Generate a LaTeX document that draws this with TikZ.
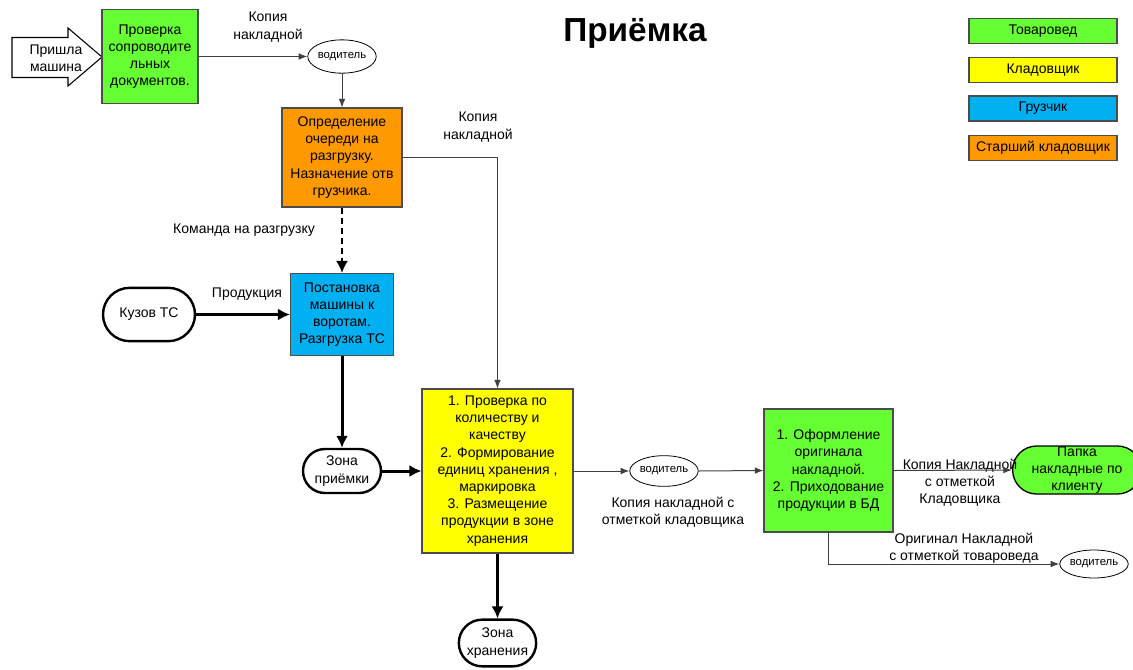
\documentclass[tikz,border=0pt]{standalone}
\usepackage{fontspec}
\setmainfont{Liberation Sans}
\usetikzlibrary{arrows.meta,shapes.misc,shapes.geometric}

\definecolor{tovgreen}{RGB}{102,255,51}
\definecolor{kladyellow}{RGB}{255,255,0}
\definecolor{gruzblue}{RGB}{0,176,240}
\definecolor{starorange}{RGB}{255,153,0}

\begin{document}
\begin{tikzpicture}[x=0.75pt,y=-0.75pt,
  txt/.style={font=\fontsize{10.5}{12.9}\selectfont},
  box/.style={txt, draw=black!70, line width=0.8pt, align=center, inner sep=0pt},
  term/.style={txt, rounded rectangle, draw, line width=1.8pt, align=center, inner sep=0pt},
  drv/.style={ellipse, draw, line width=0.6pt, inner sep=0pt, font=\fontsize{8.5}{10}\selectfont},
  lbl/.style={txt, align=center, inner sep=0pt},
  legend/.style={box, minimum width=111pt, minimum height=18.75pt},
  thinline/.style={draw=black!75, line width=0.75pt, -{Latex[length=6.5pt,width=5pt]}},
  thickline/.style={line width=2.25pt, -{Latex[length=9pt,width=9pt]}}]
\useasboundingbox (0,0) rectangle (1133,669);

% title and legend
\node[font=\fontsize{25}{30}\selectfont\bfseries] (title) at (635,33) {Приёмка};
\node[legend, fill=tovgreen] (legtov) at (1043,31) {Товаровед};
\node[legend, fill=kladyellow] (legklad) at (1043,70) {Кладовщик};
\node[legend, fill=gruzblue] (leggruz) at (1043,108.5) {Грузчик};
\node[legend, fill=starorange] (legstar) at (1043,148) {Старший кладовщик};

% arriving truck
\draw[line width=0.8pt] (12,37.5) -- (68,37.5) -- (68,28) -- (102,57) -- (68,86) -- (68,77.5) -- (12,77.5) -- cycle;
\node[lbl] (arrived) at (56,58) {Пришла\\машина};

% boxes
\node[box, fill=tovgreen, minimum width=72pt, minimum height=70.5pt] (docs) at (150,56.5) {Проверка\\сопроводите\\льных\\документов.};
\node[drv, minimum width=47pt, minimum height=25pt] (drv1) at (342,56.5) {водитель};
\node[box, fill=starorange, minimum width=90pt, minimum height=74.25pt] (queue) at (342,157.5) {Определение\\очереди на\\разгрузку.\\Назначение отв\\грузчика.};
\node[box, fill=gruzblue, minimum width=77.25pt, minimum height=61.5pt] (dock) at (342,314.5) {Постановка\\машины к\\воротам.\\Разгрузка ТС};
\node[term, minimum width=69pt, minimum height=40pt] (body) at (149,314.5) {Кузов ТС};
\node[term, minimum width=58.5pt, minimum height=33pt] (recv) at (342,471) {Зона\\приёмки};
\node[box, fill=kladyellow, minimum width=113.25pt, minimum height=123pt] (check) at (497.5,471) {1. Проверка по\\количеству и\\качеству\\2. Формирование\\единиц хранения ,\\маркировка\\3. Размещение\\продукции в зоне\\хранения};
\node[term, minimum width=58pt, minimum height=35pt] (store) at (497.5,643) {Зона\\хранения};
\node[drv, minimum width=48pt, minimum height=23pt] (drv2) at (664,471) {водитель};
\node[box, fill=tovgreen, minimum width=96.75pt, minimum height=92.25pt] (invoice) at (828.5,470.5) {1. Оформление\\оригинала\\накладной.\\2. Приходование\\продукции в БД};
\node[term, fill=tovgreen, line width=1pt, minimum width=81pt, minimum height=36pt] (folder) at (1077,470) {Папка\\накладные по\\клиенту};
\node[drv, minimum width=46.5pt, minimum height=21pt] (drv3) at (1094,564) {водитель};

% labels
\node[lbl] (copy1) at (268,27) {Копия\\накладной};
\node[lbl] (copy2) at (478,127) {Копия\\накладной};
\node[lbl] (cmd) at (244,230) {Команда на разгрузку};
\node[lbl] (prod) at (247,294) {Продукция};
\node[lbl] (copy3) at (673,512) {Копия накладной с\\отметкой кладовщика};
\node[lbl] (copy4) at (960,482.5) {Копия Накладной\\с отметкой\\Кладовщика};
\node[lbl] (orig) at (964,548) {Оригинал Накладной\\с отметкой товароведа};

% connectors
\draw[thinline] (docs.east) -- (drv1.west);
\draw[thinline] (drv1.south) -- (queue.north);
\draw[thinline] (queue.east) -| (check.north);
\draw[thickline, line width=1.5pt, dash pattern=on 4.5pt off 3pt] (queue.south) -- (dock.north);
\draw[thickline] (body.east) -- (dock.west);
\draw[thickline] (dock.south) -- (recv.north);
\draw[thickline] (recv.east) -- (check.west);
\draw[thickline] (check.south) -- (store.north);
\draw[thinline] (check.east) -- (drv2.west);
\draw[thinline] (drv2.east) -- (invoice.west);
\draw[thinline] (invoice.east) -- (folder.west);
\draw[thinline] (invoice.south) |- (drv3.west);
\end{tikzpicture}
\end{document}
